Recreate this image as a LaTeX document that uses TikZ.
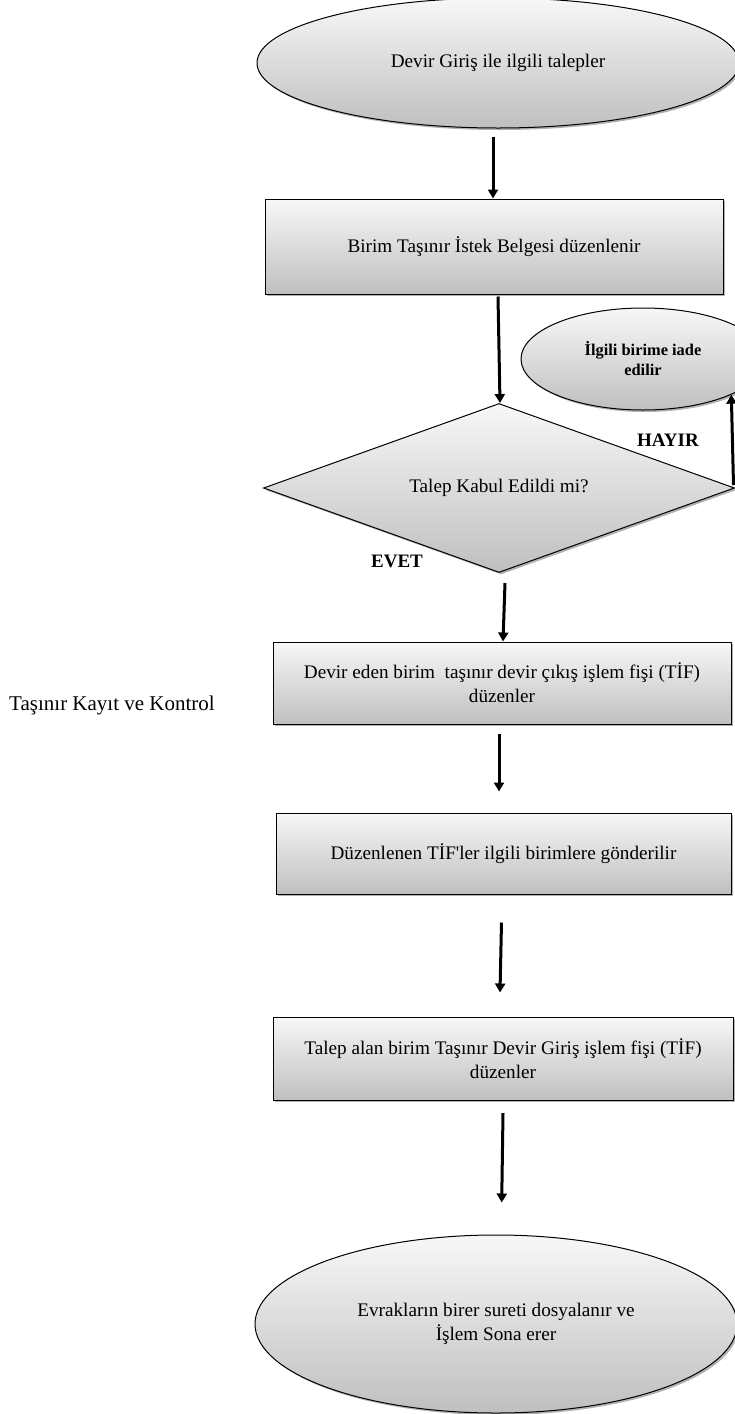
\documentclass[tikz,border=0pt]{standalone}
\usepackage{fontspec}
\setmainfont{Liberation Serif}
\usetikzlibrary{shapes.geometric,shadows,arrows.meta}
\newcommand\boxfnt{\fontsize{9.6pt}{12pt}\selectfont}
\newcommand\smallfnt{\fontsize{8.2pt}{10pt}\selectfont\bfseries}
\newcommand\lblfnt{\fontsize{9.5pt}{11pt}\selectfont\bfseries}
\newcommand\sidefnt{\fontsize{10.5pt}{12pt}\selectfont}
\tikzset{
  shadebox/.style={draw=black, line width=0.5pt, top color=gray!6, bottom color=gray!50,
    drop shadow={shadow xshift=1pt, shadow yshift=-1pt, opacity=0.3, fill=black}},
  procbox/.style={shadebox, rectangle, align=center, inner sep=0pt, font=\boxfnt},
  termnode/.style={shadebox, ellipse, align=center, inner sep=0pt, font=\boxfnt},
  decision/.style={shadebox, diamond, aspect=2.8, align=center, inner sep=0pt, font=\boxfnt},
  arr/.style={line width=1.5pt, -{Triangle[width=5pt,length=4.5pt]}},
  yesno/.style={font=\lblfnt, inner sep=0pt},
  sidelbl/.style={font=\sidefnt, inner sep=0pt}
}
\begin{document}
\begin{tikzpicture}[x=0.5pt,y=-0.5pt]
\useasboundingbox (0,0) rectangle (734,1414);
\fill[white] (0,0) rectangle (734,1414);

\node[termnode, minimum width=241pt, minimum height=65pt] (e1) at (498,63) {Devir Giriş ile ilgili talepler};
\node[procbox, minimum width=229pt, minimum height=47.5pt] (r1) at (494,246.5) {Birim Taşınır İstek Belgesi düzenlenir};
\node[termnode, font=\smallfnt, minimum width=122pt, minimum height=51pt] (e2) at (643,359) {İlgili birime iade\\edilir};
\node[decision, minimum width=235.5pt, minimum height=84.5pt] (d) at (499,488) {Talep Kabul Edildi mi?};
\node[procbox, minimum width=229pt, minimum height=41pt] (r2) at (502,683) {Devir eden birim\ \ taşınır devir çıkış işlem fişi (TİF)\\düzenler};
\node[procbox, minimum width=227.5pt, minimum height=40.5pt] (r3) at (503.5,853.5) {Düzenlenen TİF\textquotesingle ler ilgili birimlere gönderilir};
\node[procbox, minimum width=230pt, minimum height=41.5pt] (r4) at (503,1058.5) {Talep alan birim Taşınır Devir Giriş işlem fişi (TİF)\\düzenler};
\node[termnode, minimum width=241pt, minimum height=89pt] (e3) at (496,1324) {Evrakların birer sureti dosyalanır ve\\İşlem Sona erer};

\node[yesno] (hayir) at (668,440) {HAYIR};
\node[yesno] (evet) at (397,561) {EVET};
\node[sidelbl] (side) at (112,705) {Taşınır Kayıt ve Kontrol};

\draw[arr] ([xshift=-2.5pt,yshift=-4pt]e1.south) -- ([xshift=-0.5pt]r1.north);
\draw[arr] ([xshift=2pt,yshift=-1pt]r1.south) -- ([xshift=0.5pt]d.north);
\draw[arr] ([xshift=3pt,yshift=-5pt]d.south) -- ([xshift=0.5pt]r2.north);
\draw[arr] ([xshift=-1.5pt,yshift=-4.5pt]r2.south) -- ([xshift=-2.25pt,yshift=10.5pt]r3.north);
\draw[arr] ([xshift=-1pt,yshift=-14pt]r3.south) -- ([xshift=-1.5pt,yshift=12pt]r4.north);
\draw[arr] ([yshift=-6.3pt]r4.south) -- ([xshift=2.85pt,yshift=16pt]e3.north);
\draw[arr] ([xshift=-0.75pt,yshift=1.5pt]d.east) -- (e2.-22.5);
\end{tikzpicture}
\end{document}
